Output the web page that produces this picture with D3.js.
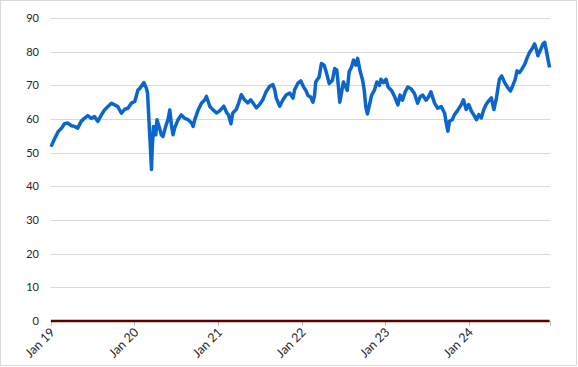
<!DOCTYPE html>
<html><head><meta charset="utf-8">
<script src="https://cdn.jsdelivr.net/npm/d3@7"></script>
<style>body{margin:0;background:#fff}svg{display:block}text{font-family:Lato,"Open Sans",sans-serif}</style>
</head><body><svg id="c" width="578" height="367"></svg>
<script>
const dates = ["2019-01-02","2019-01-05","2019-01-19","2019-02-03","2019-02-18","2019-03-02","2019-03-17","2019-04-01","2019-04-15","2019-04-29","2019-05-14","2019-05-28","2019-06-12","2019-06-27","2019-07-11","2019-07-26","2019-08-10","2019-08-24","2019-09-08","2019-09-23","2019-10-07","2019-10-21","2019-11-06","2019-11-20","2019-12-04","2019-12-19","2020-01-03","2020-01-17","2020-01-25","2020-02-12","2020-02-23","2020-02-28","2020-03-05","2020-03-11","2020-03-16","2020-03-19","2020-03-25","2020-04-04","2020-04-09","2020-04-18","2020-04-28","2020-05-05","2020-05-17","2020-05-27","2020-06-04","2020-06-11","2020-06-18","2020-06-25","2020-07-10","2020-07-24","2020-08-08","2020-08-23","2020-09-07","2020-09-14","2020-09-21","2020-10-06","2020-10-20","2020-11-04","2020-11-11","2020-11-26","2020-12-10","2020-12-25","2021-01-09","2021-01-26","2021-02-08","2021-02-15","2021-02-26","2021-03-06","2021-03-21","2021-04-01","2021-04-12","2021-04-26","2021-05-11","2021-05-23","2021-06-02","2021-06-17","2021-07-01","2021-07-15","2021-07-30","2021-08-14","2021-08-28","2021-09-05","2021-09-12","2021-09-27","2021-10-11","2021-10-26","2021-11-10","2021-11-24","2021-12-01","2021-12-16","2021-12-28","2022-01-09","2022-01-19","2022-01-28","2022-02-09","2022-02-19","2022-02-26","2022-03-03","2022-03-18","2022-03-28","2022-04-09","2022-04-20","2022-05-01","2022-05-15","2022-05-25","2022-06-03","2022-06-09","2022-06-16","2022-06-23","2022-07-02","2022-07-12","2022-07-19","2022-07-27","2022-08-07","2022-08-15","2022-08-25","2022-09-02","2022-09-12","2022-09-24","2022-10-01","2022-10-08","2022-10-15","2022-10-23","2022-11-02","2022-11-14","2022-11-25","2022-12-06","2022-12-13","2022-12-24","2023-01-04","2023-01-13","2023-01-28","2023-02-11","2023-02-25","2023-03-06","2023-03-17","2023-03-29","2023-04-09","2023-04-23","2023-05-08","2023-05-22","2023-06-02","2023-06-13","2023-06-28","2023-07-09","2023-07-19","2023-08-04","2023-08-18","2023-09-02","2023-09-17","2023-09-24","2023-10-01","2023-10-08","2023-10-20","2023-10-30","2023-11-14","2023-11-28","2023-12-08","2023-12-20","2023-12-31","2024-01-12","2024-01-26","2024-02-03","2024-02-13","2024-02-24","2024-03-06","2024-03-16","2024-03-26","2024-04-08","2024-04-19","2024-04-29","2024-05-06","2024-05-13","2024-05-23","2024-06-05","2024-06-19","2024-06-30","2024-07-10","2024-07-21","2024-07-29","2024-08-09","2024-08-19","2024-09-01","2024-09-12","2024-09-22","2024-10-02","2024-10-14","2024-10-21","2024-10-28","2024-11-10","2024-11-19","2024-11-27","2024-12-04","2024-12-11","2024-12-18"];
const values = [52.5,52.2,54.3,56.3,57.3,58.6,58.8,58,57.8,57.3,59.3,60.2,61,60.2,60.7,59.3,61.2,62.7,63.7,64.7,64.2,63.7,61.7,62.9,63.2,64.7,65.2,68.6,69.1,70.8,69.1,67.6,59.6,51.9,45,50.9,57.8,55.3,59.8,57.8,55.3,54.8,57.8,59.8,62.7,58.3,55.3,57.3,59.8,61.2,60.2,59.8,58.8,57.8,59.8,62.7,64.7,65.7,66.7,63.7,62.7,61.8,62.5,63.8,61.8,61.3,58.6,61.8,62.8,64.8,67.2,65.7,64.8,65.7,64.8,63.3,64.3,65.7,68.2,69.7,70.2,68.7,66.2,63.8,65.7,67.2,67.7,66.2,68.7,70.7,71.3,69.5,68.5,67,66.5,65,67,71,72.5,76.5,76,73.5,70.5,71.5,75,74.5,70.5,65,67.5,71,69.5,68.5,74,75.5,77.5,76,78,74.5,71.5,68.5,63.5,61.5,64,67,68.5,71,70,71.8,70.8,71.8,69.5,68.5,66.6,64.2,67.1,65.6,68.1,69.5,69,67.6,64.7,66.6,67.1,65.6,66.6,68.1,64.7,63.2,63.7,61.7,58.8,56.4,59.3,59.8,61.3,62.7,64.2,65.7,62.8,64.3,62.3,60.8,59.8,61.3,60.3,62.8,64.3,65.3,66.3,62.8,65.8,68.8,71.8,72.8,70.8,69.3,68.3,69.8,71.8,74.3,73.8,74.8,76.3,78.3,79.8,80.8,82.3,80.8,78.8,80.8,82.3,82.8,80.3,77.8,75.3];
const yTicks = [0,10,20,30,40,50,60,70,80,90];
const xTickLabels = ["Jan 19","Jan 20","Jan 21","Jan 22","Jan 23","Jan 24"];
const xTickDates = ["2019-01-01","2020-01-01","2021-01-01","2022-01-01","2023-01-01","2024-01-01"];

const parse = d3.timeParse("%Y-%m-%d");
const data = dates.map((d,i)=>({date:parse(d), v:values[i]}));
const svg = d3.select("#c");

svg.append("rect").attr("x",0.5).attr("y",0.5).attr("width",576).attr("height",365)
  .attr("fill","#fff").attr("stroke","#d9d9d9");

const x = d3.scaleTime().domain([parse("2019-01-01"), parse("2024-12-20")]).range([50.7, 550]);
const y = d3.scaleLinear().domain([0,90]).range([321, 18]);

svg.append("g").selectAll("line").data(yTicks.filter(t=>t>0)).join("line")
  .attr("x1",50.5).attr("x2",550.5)
  .attr("y1",d=>Math.round(y(d))+0.5).attr("y2",d=>Math.round(y(d))+0.5)
  .attr("stroke","#d9d9d9").attr("stroke-width",1);

svg.append("g").selectAll("text").data(yTicks).join("text")
  .attr("x",39).attr("y",d=>y(d)).attr("dy","0.35em")
  .attr("text-anchor","end").attr("font-size",11).attr("fill","#262626")
  .text(d=>d);

svg.append("line").attr("x1",50.5).attr("x2",550.5).attr("y1",321.5).attr("y2",321.5).attr("stroke","#bfbfbf");
const tickD = xTickDates.map(parse);
svg.append("g").selectAll("line").data(tickD).join("line")
  .attr("x1",d=>Math.round(x(d))+0.5).attr("x2",d=>Math.round(x(d))+0.5)
  .attr("y1",321).attr("y2",326).attr("stroke","#bfbfbf");
svg.append("line").attr("x1",550.5).attr("x2",550.5).attr("y1",321).attr("y2",326).attr("stroke","#bfbfbf");

svg.append("g").selectAll("text").data(xTickLabels).join("text")
  .attr("transform",(d,i)=>`translate(${x(tickD[i])+5},${333}) rotate(-45)`)
  .attr("text-anchor","end").attr("font-size",12.5).attr("fill","#262626")
  .text(d=>d);

svg.append("path").datum(data)
  .attr("d", d3.line().x(d=>x(d.date)).y(()=>y(0)))
  .attr("fill","none").attr("stroke","#5c0000").attr("stroke-width",2.5);

svg.append("path").datum(data)
  .attr("d", d3.line().x(d=>x(d.date)).y(d=>y(d.v)))
  .attr("fill","none").attr("stroke","#0a66cc").attr("stroke-width",3.5)
  .attr("stroke-linejoin","round");
</script></body></html>
